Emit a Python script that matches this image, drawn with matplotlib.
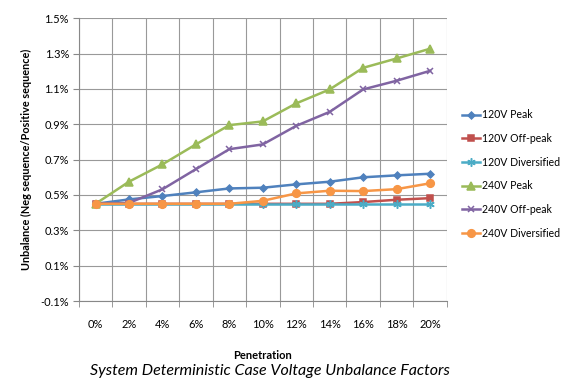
import numpy as np
import matplotlib
matplotlib.use("Agg")
import matplotlib.pyplot as plt
from matplotlib.ticker import FixedLocator

plt.rcParams['font.family'] = ['Lato', 'DejaVu Sans']

penetration = ['0%', '2%', '4%', '6%', '8%', '10%', '12%', '14%', '16%', '18%', '20%']
peak_120 = [0.45, 0.475, 0.494, 0.515, 0.537, 0.541, 0.560, 0.575, 0.600, 0.611, 0.620]
offpeak_120 = [0.45, 0.45, 0.45, 0.45, 0.45, 0.45, 0.45, 0.45, 0.460, 0.473, 0.482]
diversified_120 = [0.45, 0.45, 0.45, 0.45, 0.45, 0.45, 0.45, 0.45, 0.45, 0.45, 0.45]
peak_240 = [0.45, 0.575, 0.673, 0.786, 0.895, 0.916, 1.018, 1.097, 1.219, 1.272, 1.327]
offpeak_240 = [0.45, 0.455, 0.532, 0.646, 0.759, 0.786, 0.891, 0.970, 1.097, 1.146, 1.202]
diversified_240 = [0.45, 0.45, 0.45, 0.45, 0.45, 0.467, 0.509, 0.524, 0.522, 0.533, 0.566]

series = [
    ('120V Peak', peak_120, '#4F81BD', 'D', 3.5),
    ('120V Off-peak', offpeak_120, '#C0504D', 's', 4.5),
    ('120V Diversified', diversified_120, '#4BACC6', (6, 2, 0), 6),
    ('240V Peak', peak_240, '#9BBB59', '^', 5.5),
    ('240V Off-peak', offpeak_240, '#8064A2', 'x', 5),
    ('240V Diversified', diversified_240, '#F79646', 'o', 5.5),
]

fig = plt.figure(figsize=(5.75, 3.86), dpi=100)
ax = fig.add_axes([0.137, 0.220, 0.640, 0.733])

x = np.arange(len(penetration))
for name, vals, col, mk, ms in series:
    ax.plot(x, vals, color=col, marker=mk, markersize=ms, linewidth=1.8,
            markeredgecolor=col, markeredgewidth=1.1, label=name)

ax.set_xlim(-0.5, len(penetration) - 0.5)
ax.set_ylim(-0.1, 1.5)
yt = np.arange(-0.1, 1.51, 0.2)
ax.set_yticks(yt)
ax.set_yticklabels(['%.1f%%' % v for v in yt], fontsize=8)
ax.set_xticks(x)
ax.set_xticklabels(penetration, fontsize=8)
ax.xaxis.set_minor_locator(FixedLocator(np.arange(-0.5, len(penetration), 1.0)))
ax.tick_params(axis='x', which='major', length=0, pad=13)
ax.tick_params(axis='x', which='minor', length=4, color='#888888')
ax.tick_params(axis='y', length=4, color='#888888', pad=3)
ax.grid(True, axis='y', which='major', color='#999999', linewidth=0.8)
ax.grid(True, axis='x', which='minor', color='#999999', linewidth=0.8)
ax.set_axisbelow(True)
for s in ['top', 'right']:
    ax.spines[s].set_visible(False)
for s in ['left', 'bottom']:
    ax.spines[s].set_color('#888888')

ax.set_ylabel('Unbalance (Neg sequence/Positive sequence)', fontsize=7.8, fontweight='bold', labelpad=6)
ax.set_xlabel('Penetration', fontsize=8, fontweight='bold', labelpad=14)

ax.legend(loc='upper left', bbox_to_anchor=(1.025, 0.70), frameon=False, fontsize=7.6,
          handlelength=1.7, labelspacing=1.2, handletextpad=0.2, borderaxespad=0.2)

fig.text(0.47, 0.028, 'System Deterministic Case Voltage Unbalance Factors',
         ha='center', fontsize=11.5, style='italic')

fig.savefig('out.png', dpi=100)
